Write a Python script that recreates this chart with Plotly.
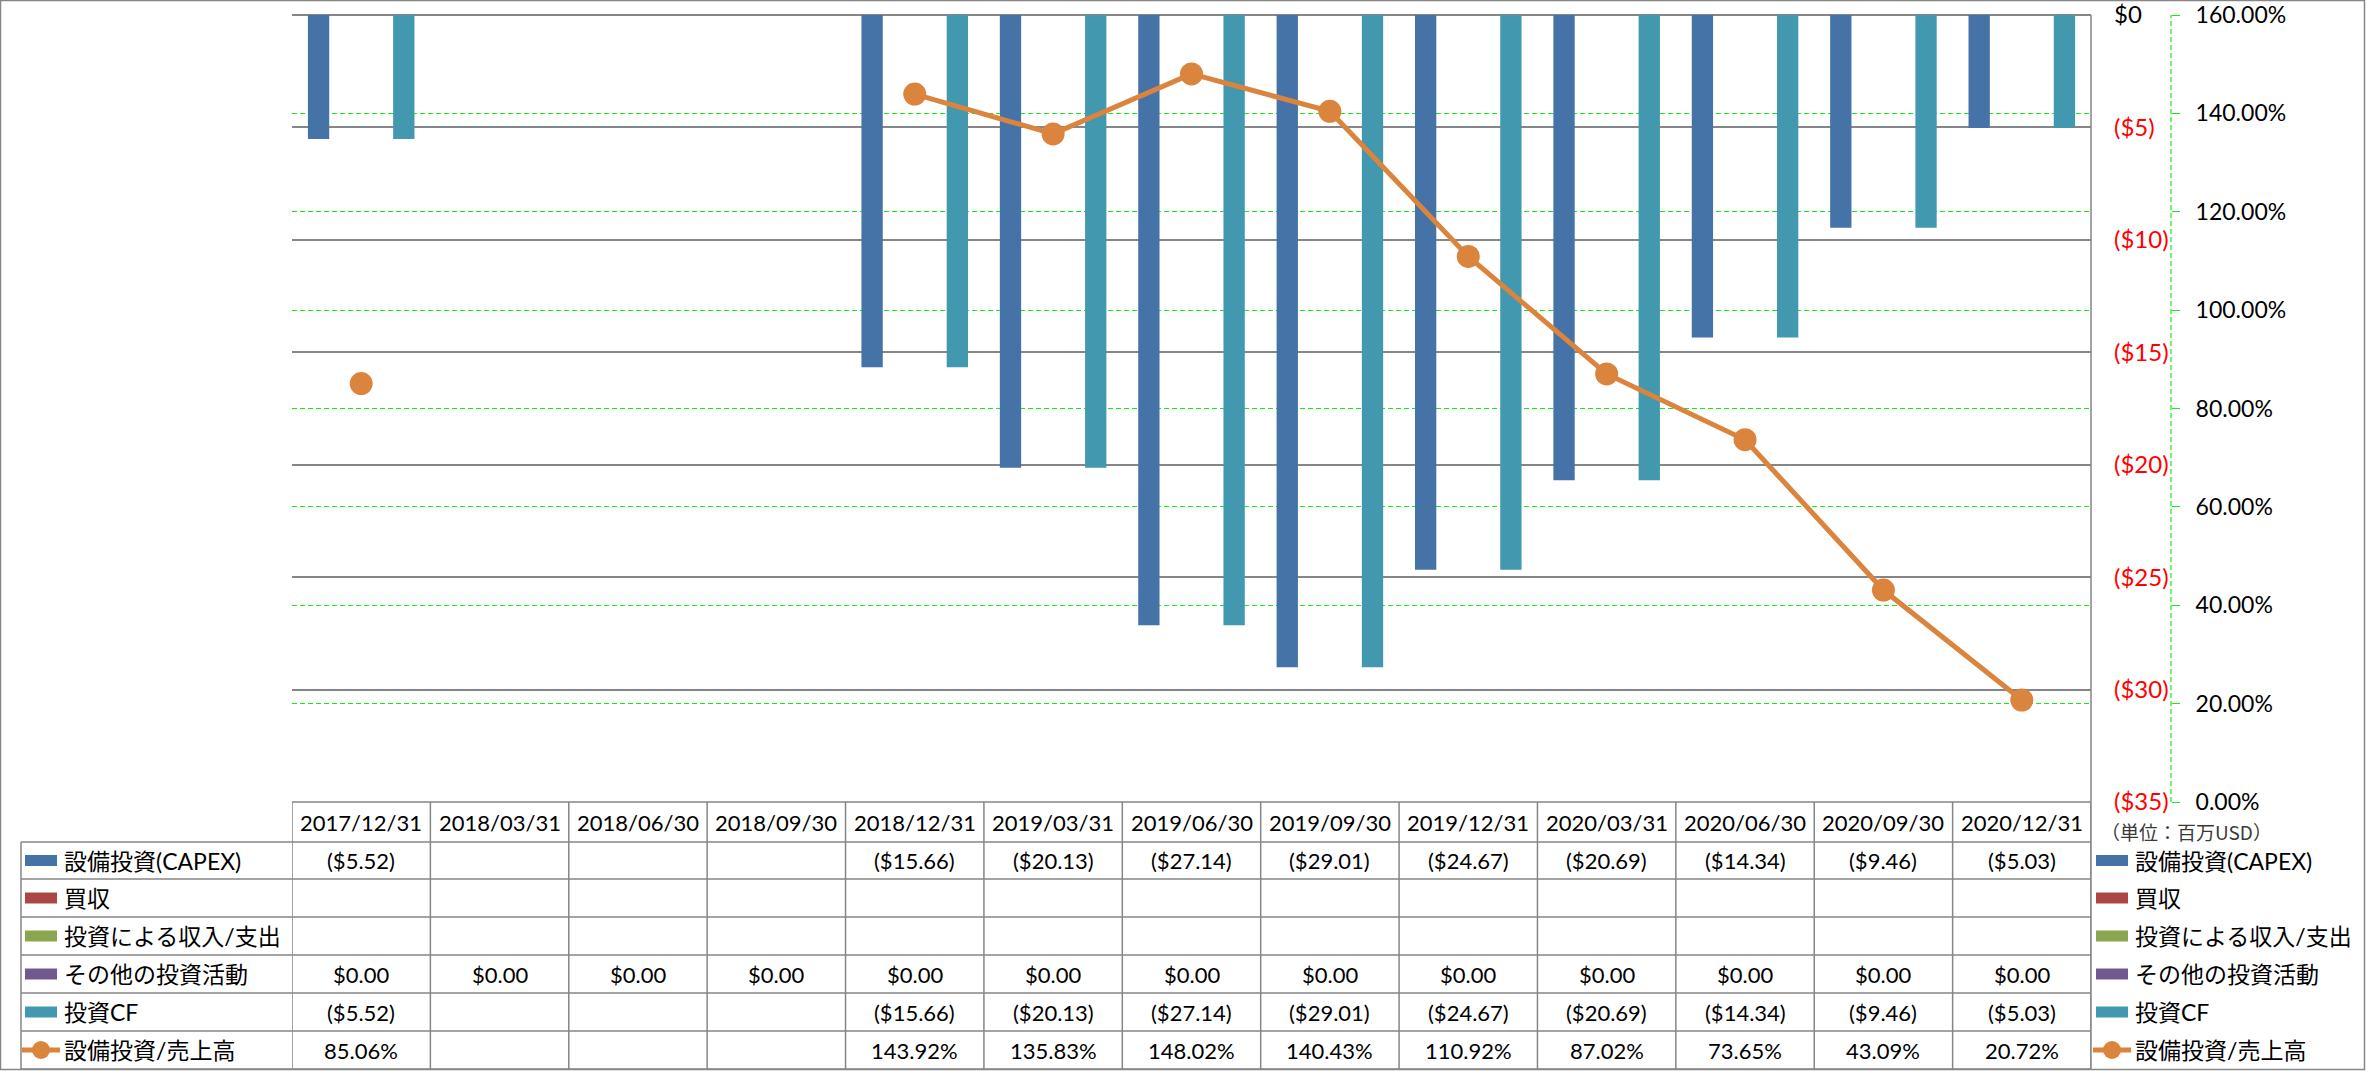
import plotly.graph_objects as go

W, H = 2366, 1071

# ---------------- data ----------------
dates = ["2017/12/31", "2018/03/31", "2018/06/30", "2018/09/30", "2018/12/31",
         "2019/03/31", "2019/06/30", "2019/09/30", "2019/12/31", "2020/03/31",
         "2020/06/30", "2020/09/30", "2020/12/31"]
capex = [-5.52, None, None, None, -15.66, -20.13, -27.14, -29.01, -24.67,
         -20.69, -14.34, -9.46, -5.03]
acquisitions = [None] * 13
invest_income = [None] * 13
other_invest = [0.0] * 13
invest_cf = [-5.52, None, None, None, -15.66, -20.13, -27.14, -29.01, -24.67,
             -20.69, -14.34, -9.46, -5.03]
capex_ratio = [85.06, None, None, None, 143.92, 135.83, 148.02, 140.43, 110.92,
               87.02, 73.65, 43.09, 20.72]

series_names = ["設備投資(CAPEX)", "買収", "投資による収入/支出",
                "その他の投資活動", "投資CF", "設備投資/売上高"]
colors = ["#4572A7", "#AA4643", "#89A54E", "#71588F", "#4198AF", "#DB843D"]
dollar_ticks = [0, -5, -10, -15, -20, -25, -30, -35]
pct_ticks = [0, 20, 40, 60, 80, 100, 120, 140, 160]
unit_label = "（単位：百万USD）"

bar_series = [capex, acquisitions, invest_income, other_invest, invest_cf]

# ---------------- helpers ----------------
def px(xp):
    return xp / W

def py(yp):
    return 1 - yp / H

def fmt_money(v):
    if v is None:
        return ""
    if v < 0:
        return "(${:.2f})".format(-v)
    return "${:.2f}".format(v)

def fmt_pct(v):
    return "" if v is None else "{:.2f}%".format(v)

def dollar_label(v):
    if v < 0:
        return '<span style="color:#FF0000">(${})</span>'.format(-v)
    return "${}".format(v)

NUMFONT = "Lato, 'Noto Sans CJK JP', sans-serif"
GRID = "#868686"
GREEN = "#11EE11"

PLOT_L, PLOT_R, PLOT_T, PLOT_B = 292, 2091, 15, 802
ROW_H = [802, 842, 879, 917, 955, 993, 1031, 1069]

fig = go.Figure()

for name, vals, col in zip(series_names[:5], bar_series, colors[:5]):
    fig.add_trace(go.Bar(x=dates, y=vals, name=name, marker=dict(color=col, line=dict(width=0)),
                         yaxis="y", showlegend=False))

fig.add_trace(go.Scatter(x=dates, y=capex_ratio, name=series_names[5], yaxis="y2",
                         mode="lines+markers", connectgaps=False,
                         line=dict(color=colors[5], width=5),
                         marker=dict(color=colors[5], size=23), showlegend=False))

shapes = []
annotations = []

# outer border
shapes.append(dict(type="rect", xref="paper", yref="paper", x0=px(0.5), x1=px(W - 1.5),
                   y0=py(H - 1.5), y1=py(0.5), line=dict(color=GRID, width=1.5)))
# right vertical line of plot/table
shapes.append(dict(type="line", xref="paper", yref="paper", x0=px(PLOT_R), x1=px(PLOT_R),
                   y0=py(PLOT_T), y1=py(ROW_H[-1]), line=dict(color=GRID, width=1.5)))
# secondary axis dashed line
shapes.append(dict(type="line", xref="paper", yref="y2", x0=px(2171), x1=px(2171),
                   y0=0, y1=160, line=dict(color=GREEN, width=1.2, dash="5px,3px")))
# table header top line
shapes.append(dict(type="line", xref="paper", yref="paper", x0=px(PLOT_L), x1=px(PLOT_R),
                   y0=py(ROW_H[0]), y1=py(ROW_H[0]), line=dict(color=GRID, width=1.5)))
# table horizontal lines
for yy in ROW_H[1:]:
    shapes.append(dict(type="line", xref="paper", yref="paper", x0=px(21), x1=px(PLOT_R),
                       y0=py(yy), y1=py(yy), line=dict(color=GRID, width=1.5)))
# left border of row labels
shapes.append(dict(type="line", xref="paper", yref="paper", x0=px(21), x1=px(21),
                   y0=py(ROW_H[1]), y1=py(ROW_H[-1]), line=dict(color=GRID, width=1.5)))
# column boundaries
for i in range(len(dates) + 1):
    shapes.append(dict(type="line", xref="x", yref="paper", x0=i - 0.5, x1=i - 0.5,
                       y0=py(ROW_H[0]), y1=py(ROW_H[-1]), line=dict(color=GRID, width=1.5)))

# header dates
hc = (ROW_H[0] + ROW_H[1]) / 2
for i, d in enumerate(dates):
    annotations.append(dict(xref="x", yref="paper", x=i, y=py(hc), text=d, showarrow=False,
                            xanchor="center", yanchor="middle",
                            font=dict(family=NUMFONT, size=22, color="#000000")))

# table values
row_values = [[fmt_money(v) for v in s] for s in bar_series] + [[fmt_pct(v) for v in capex_ratio]]
for r, vals in enumerate(row_values):
    yc = (ROW_H[r + 1] + ROW_H[r + 2]) / 2
    for i, t in enumerate(vals):
        if t:
            annotations.append(dict(xref="x", yref="paper", x=i, y=py(yc), text=t, showarrow=False,
                                    xanchor="center", yanchor="middle",
                                    font=dict(family=NUMFONT, size=22, color="#000000")))

# row labels (left) and legend (right)
for r, (name, col) in enumerate(zip(series_names, colors)):
    yc = (ROW_H[r + 1] + ROW_H[r + 2]) / 2
    for (sx0, sx1, tx) in [(25, 57, 62), (2096, 2128, 2133)]:
        if r < 5:
            shapes.append(dict(type="rect", xref="paper", yref="paper", x0=px(sx0), x1=px(sx1),
                               y0=py(yc + 5.5), y1=py(yc - 5.5), fillcolor=col,
                               line=dict(width=0)))
        else:
            shapes.append(dict(type="line", xref="paper", yref="paper", x0=px(sx0 - 3),
                               x1=px(sx1 + 3), y0=py(yc), y1=py(yc),
                               line=dict(color=col, width=5)))
            cx = (sx0 + sx1) / 2
            shapes.append(dict(type="circle", xref="paper", yref="paper", x0=px(cx - 9),
                               x1=px(cx + 9), y0=py(yc + 9), y1=py(yc - 9), fillcolor=col,
                               line=dict(width=0)))
        annotations.append(dict(xref="paper", yref="paper", x=px(tx), y=py(yc), text=name,
                                showarrow=False, xanchor="left", yanchor="middle",
                                font=dict(family=NUMFONT, size=23, color="#000000")))

# unit label
annotations.append(dict(xref="paper", yref="paper", x=px(2186), y=py(831), text=unit_label,
                        showarrow=False, xanchor="center", yanchor="middle",
                        font=dict(family="'Noto Sans CJK JP', sans-serif", size=19, color="#3a3a3a")))

fig.update_layout(
    width=W, height=H,
    margin=dict(l=0, r=0, t=0, b=0, autoexpand=False),
    paper_bgcolor="white", plot_bgcolor="white",
    barmode="group", bargap=0.23, bargroupgap=0.0,
    showlegend=False,
    xaxis=dict(domain=[px(PLOT_L), px(PLOT_R)], type="category", range=[-0.5, len(dates) - 0.5],
               showticklabels=False, showgrid=False, zeroline=False, showline=False, ticks="",
               automargin=False),
    yaxis=dict(domain=[py(PLOT_B), py(PLOT_T)], range=[-35, 0], side="right", anchor="x",
               tickvals=dollar_ticks, ticktext=[dollar_label(v) for v in dollar_ticks],
               tickfont=dict(family=NUMFONT, size=24, color="#000000"),
               ticks="", ticklabelstandoff=22, automargin=False, ticklabeloverflow="allow",
               showgrid=True, gridcolor=GRID, gridwidth=1.5,
               zeroline=True, zerolinecolor=GRID, zerolinewidth=1.5, showline=False),
    yaxis2=dict(overlaying="y", range=[0, 160], side="right", anchor="free", position=px(2171),
                tickvals=pct_ticks, ticktext=["{:.2f}%".format(v) for v in pct_ticks],
                tickfont=dict(family=NUMFONT, size=23, color="#000000"),
                ticks="outside", ticklen=8, tickcolor=GREEN, tickwidth=1,
                ticklabelstandoff=11, automargin=False, ticklabeloverflow="allow",
                showgrid=True, gridcolor=GREEN, gridwidth=1.2, griddash="5px,3px",
                zeroline=False, showline=False),
    shapes=shapes,
    annotations=annotations,
)

fig.write_html("out.html", config={"displayModeBar": False},
               post_script="document.body.style.margin='0';document.body.style.overflow='hidden';")
